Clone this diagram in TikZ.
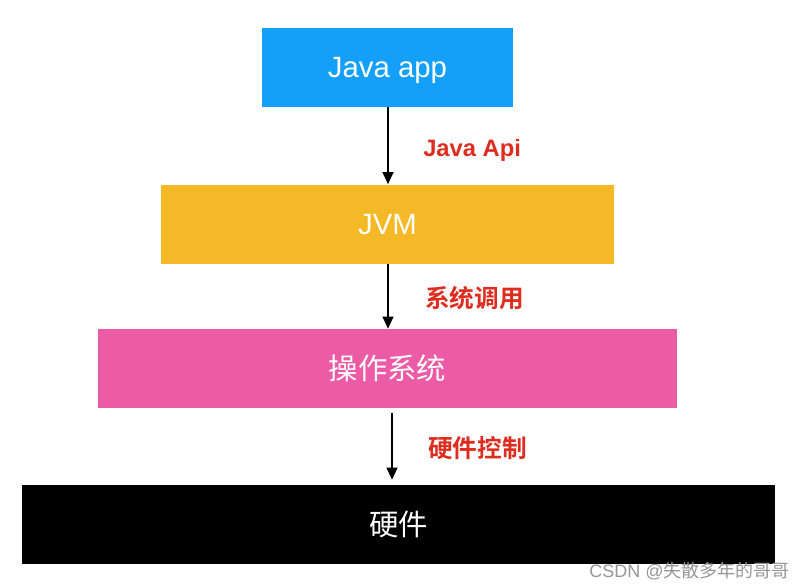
\documentclass[tikz,border=0pt]{standalone}
\usepackage{fontspec}
\setmainfont{Liberation Sans}
\newfontfamily\cjk{Noto Sans CJK SC}[BoldFont={Noto Sans CJK SC Bold}]
\usetikzlibrary{arrows.meta, positioning}
\definecolor{appblue}{RGB}{20,160,250}
\definecolor{jvmorange}{RGB}{245,184,38}
\definecolor{ospink}{RGB}{236,92,166}
\definecolor{labelred}{RGB}{222,44,30}
\definecolor{markgray}{RGB}{150,150,150}
\tikzset{
  layer/.style={rectangle, minimum height=79*0.75pt, inner sep=0pt,
    text height=15.75pt, text depth=0pt,
    text=white, font=\fontsize{22}{26}\selectfont},
  arrow/.style={-{Triangle[length=9pt, width=8pt]}, line width=1.5pt, color=black},
  calllabel/.style={anchor=west, text=labelred, inner sep=0pt,
    font=\fontsize{18.5}{22}\selectfont\bfseries},
}
\begin{document}
\begin{tikzpicture}[x=0.75pt, y=-0.75pt]
  \useasboundingbox (0,0) rectangle (806,588);
  \node[layer, fill=appblue, minimum width=251*0.75pt] (app) at (387.5,67.5) {Java app};
  \node[layer, fill=jvmorange, minimum width=453*0.75pt] (jvm) at (387.5,224) {JVM};
  \node[layer, fill=ospink, minimum width=579*0.75pt] (os) at (387.5,368.5) {\cjk 操作系统};
  \node[layer, fill=black, minimum width=753*0.75pt] (hw) at (398.5,524.5) {\cjk 硬件};

  \draw[arrow] ([xshift=0.5*0.75pt]app.south) -- ([xshift=0.5*0.75pt]jvm.north);
  \draw[arrow] ([xshift=0.5*0.75pt]jvm.south) -- ([xshift=0.5*0.75pt]os.south |- os.north);
  \draw[arrow, shorten <=5*0.75pt, shorten >=5*0.75pt]
    ([xshift=4.5*0.75pt]os.south) -- ([xshift=-6.5*0.75pt]hw.north);

  \node[calllabel, font=\fontsize{17.8}{22}\selectfont\bfseries] (api) at (423,150) {Java Api};
  \node[calllabel] (syscall) at (425,298) {\cjk 系统调用};
  \node[calllabel] (hwctl) at (428,448) {\cjk 硬件控制};

  % watermark
  \node[anchor=east, text=markgray, inner sep=0pt, font=\fontsize{13.5}{16}\selectfont]
    (mark) at (790,571) {CSDN @{\cjk 失散多年的哥哥}};
\end{tikzpicture}
\end{document}
